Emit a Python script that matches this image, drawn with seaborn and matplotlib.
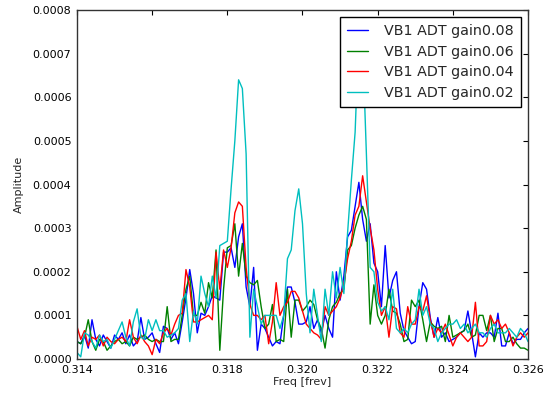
import numpy as np
import pandas as pd
import matplotlib
matplotlib.use("Agg")
import matplotlib.pyplot as plt
from matplotlib.ticker import FormatStrFormatter, MultipleLocator
import seaborn as sns

# Frequency grid [frev]
freq_start = 0.3140
freq_step = 0.0001
n_points = 121

# Spectral amplitudes, in units of 1e-5
gain008 = [
    4.0, 3.5, 5.5, 2.5, 9.0, 4.5, 3.0, 5.5, 4.0, 2.5,
    5.5, 4.5, 6.0, 3.5, 5.5, 3.0, 4.0, 9.5, 4.5, 5.0,
    6.0, 3.5, 1.5, 7.5, 7.0, 4.5, 6.0, 3.5, 8.5, 14.0,
    20.5, 15.0, 6.0, 10.5, 10.0, 12.0, 14.5, 14.0, 13.5, 24.5,
    24.5, 25.5, 21.0, 28.0, 31.0, 16.5, 12.0, 21.0, 2.0, 8.0,
    7.0, 5.0, 3.0, 4.0, 3.5, 10.0, 16.5, 16.5, 13.0, 8.0,
    8.0, 8.5, 12.0, 7.0, 9.0, 6.0, 10.0, 7.0, 5.0, 20.0,
    13.5, 19.0, 28.0, 29.5, 35.0, 40.5, 32.0, 27.0, 31.0, 22.0,
    20.0, 12.0, 26.0, 14.0, 18.0, 20.0, 10.5, 6.5, 5.0, 3.5,
    4.0, 12.0, 17.5, 16.0, 9.5, 5.0, 9.5, 5.0, 6.0, 4.0,
    4.5, 5.0, 6.0, 6.5, 11.0, 6.0, 0.5, 6.0, 5.0, 6.0,
    6.0, 5.0, 10.5, 3.0, 3.0, 6.0, 3.5, 4.5, 4.5, 6.0,
    7.0,
]
gain006 = [
    4.0, 3.5, 5.0, 9.0, 4.0, 2.0, 4.5, 4.0, 2.0, 3.0,
    4.0, 4.5, 3.5, 4.0, 3.0, 5.0, 4.5, 5.0, 5.5, 4.5,
    4.0, 4.5, 4.0, 4.0, 12.0, 4.0, 4.5, 4.5, 10.0, 16.0,
    19.0, 10.0, 10.0, 13.0, 10.5, 17.5, 14.0, 25.0, 2.0, 16.0,
    25.5, 26.0, 31.0, 19.0, 26.5, 19.0, 17.5, 17.0, 18.0, 12.0,
    7.0, 8.0, 12.5, 4.0, 4.5, 4.0, 16.0, 5.0, 13.5, 13.5,
    11.0, 12.0, 13.5, 12.5, 9.0, 7.0, 2.5, 9.0, 12.0, 13.0,
    15.0, 16.0, 25.0, 26.0, 30.0, 33.0, 35.0, 32.0, 8.0, 17.0,
    10.0, 8.0, 10.0, 16.0, 11.0, 10.5, 8.0, 4.0, 4.5, 13.5,
    12.0, 13.5, 9.0, 4.0, 8.5, 7.5, 7.0, 7.5, 4.0, 10.0,
    5.0, 5.5, 6.0, 6.5, 8.0, 5.0, 5.5, 10.0, 10.0, 6.5,
    10.0, 4.0, 7.0, 7.0, 4.0, 4.0, 5.0, 3.5, 2.5, 2.5,
    2.0,
]
gain004 = [
    7.5, 4.5, 6.5, 3.0, 5.0, 4.5, 5.5, 3.0, 5.0, 4.0,
    3.5, 4.5, 5.0, 4.0, 9.0, 5.0, 3.5, 5.5, 4.0, 3.0,
    1.0, 4.5, 3.5, 6.0, 7.0, 5.5, 8.0, 10.0, 10.5, 20.5,
    16.5, 8.5, 8.5, 9.0, 9.5, 10.0, 9.0, 24.5, 16.0, 25.0,
    21.0, 25.5, 33.5, 36.0, 35.0, 21.0, 12.5, 10.0, 10.0, 9.0,
    10.0, 3.5, 8.5, 17.5, 10.0, 12.0, 13.0, 15.5, 15.5, 14.0,
    11.0, 8.0, 7.0, 6.0, 5.5, 4.5, 12.0, 10.0, 11.0, 12.0,
    14.0, 17.0, 23.0, 27.0, 33.0, 35.0, 42.0, 36.0, 30.0, 25.0,
    16.0, 10.0, 12.0, 5.0, 12.0, 11.5, 6.0, 5.0, 12.0, 8.0,
    8.0, 12.0, 11.0, 14.5, 9.0, 5.0, 7.0, 6.0, 8.0, 5.5,
    3.0, 5.0, 6.0, 5.0, 4.0, 5.0, 13.0, 3.0, 3.0, 4.0,
    10.0, 8.0, 9.0, 7.0, 8.0, 6.0, 3.0, 5.0, 6.0, 5.0,
    6.0,
]
gain002 = [
    1.5, 0.5, 6.0, 5.5, 4.0, 2.5, 5.5, 4.0, 4.5, 2.5,
    4.5, 6.5, 8.5, 5.0, 3.0, 8.5, 11.5, 5.0, 4.5, 9.0,
    6.5, 9.0, 6.5, 6.5, 5.0, 5.5, 6.0, 7.0, 13.5, 15.0,
    4.0, 11.0, 8.0, 19.0, 15.0, 12.0, 19.0, 14.0, 26.0, 26.5,
    27.0, 39.0, 50.0, 64.0, 62.0, 47.0, 5.0, 16.0, 12.0, 8.0,
    10.0, 10.0, 10.0, 10.0, 7.0, 10.0, 23.0, 25.0, 34.0, 39.0,
    31.0, 15.0, 6.0, 16.0, 10.0, 4.0, 16.0, 10.0, 20.0, 14.0,
    21.0, 15.0, 29.0, 41.0, 52.0, 75.0, 72.0, 47.0, 21.0, 20.0,
    13.0, 11.0, 12.0, 9.0, 16.0, 7.0, 6.0, 7.0, 6.0, 8.0,
    9.0, 16.0, 10.0, 12.0, 8.0, 7.0, 4.0, 6.0, 7.0, 8.0,
    8.0, 9.0, 7.0, 8.0, 6.0, 7.0, 8.0, 6.0, 6.0, 5.0,
    7.0, 8.0, 6.0, 6.0, 6.0, 7.0, 6.0, 5.0, 7.0, 6.0,
    4.0,
]

labels = ["VB1 ADT gain0.08", "VB1 ADT gain0.06",
          "VB1 ADT gain0.04", "VB1 ADT gain0.02"]
colors = ["#0000ff", "#008000", "#ff0000", "#00bfbf"]

freq = freq_start + freq_step * np.arange(n_points)
frames = []
for lab, vals in zip(labels, [gain008, gain006, gain004, gain002]):
    frames.append(pd.DataFrame({
        "freq": freq,
        "amp": np.asarray(vals) * 1e-5,
        "series": lab,
    }))
df = pd.concat(frames, ignore_index=True)

sns.set_style("white")
plt.rcParams["font.family"] = ["DejaVu Sans"]

fig = plt.figure(figsize=(5.51, 3.97), dpi=100)
ax = fig.add_axes([0.1397, 0.0957, 0.8186, 0.8791])

sns.lineplot(data=df, x="freq", y="amp", hue="series", hue_order=labels,
             palette=colors, estimator=None, sort=False, linewidth=1.0, ax=ax)

ax.set_xlim(0.314, 0.326)
ax.set_ylim(0, 0.0008)
ax.xaxis.set_major_locator(MultipleLocator(0.002))
ax.yaxis.set_major_locator(MultipleLocator(0.0001))
ax.xaxis.set_major_formatter(FormatStrFormatter("%.3f"))
ax.yaxis.set_major_formatter(FormatStrFormatter("%.4f"))
ax.tick_params(direction="in", length=3.5, width=0.8, top=True, right=True,
               labelsize=8, pad=4, colors="black")
for sp in ax.spines.values():
    sp.set_color("#333333")
    sp.set_linewidth(1.0)

ax.set_xlabel("Freq [frev]", fontsize=8, labelpad=2)
ax.set_ylabel("Amplitude", fontsize=8, labelpad=6)

leg = ax.legend(loc="upper right", fontsize=10.3, fancybox=False,
                framealpha=1, edgecolor="black", handlelength=1.5,
                handletextpad=1.1, labelspacing=0.45, borderpad=0.5,
                borderaxespad=0.5)
leg.get_frame().set_linewidth(1.0)

fig.savefig("out.png", dpi=100)
